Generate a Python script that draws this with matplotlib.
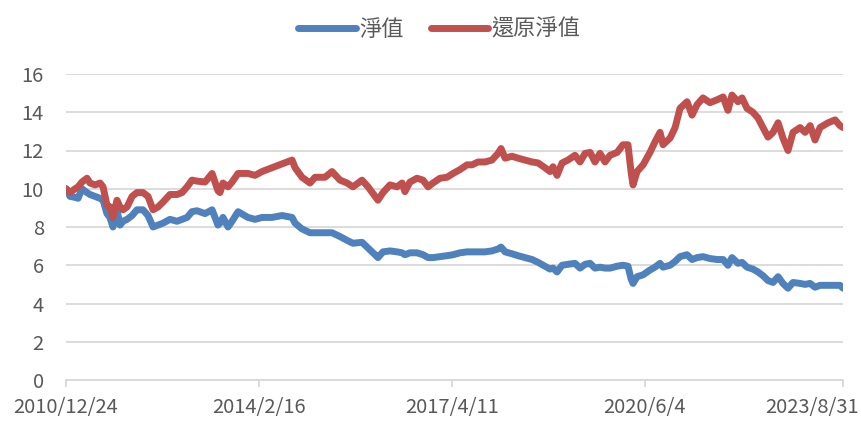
import matplotlib
matplotlib.use("Agg")
import matplotlib.pyplot as plt
import pandas as pd
from matplotlib.transforms import ScaledTranslation

plt.rcParams['font.family'] = ['Noto Sans CJK TC', 'DejaVu Sans']

dates = [
    "2010-12-24", "2011-01-17", "2011-02-16", "2011-03-06", "2011-03-29", "2011-04-28",
    "2011-05-16", "2011-06-15", "2011-07-15", "2011-08-02", "2011-08-25", "2011-09-12",
    "2011-09-30", "2011-10-24", "2011-11-11", "2011-11-29", "2011-12-23", "2012-01-22",
    "2012-02-20", "2012-03-27", "2012-04-26", "2012-05-26", "2012-06-25", "2012-07-24",
    "2012-09-04", "2012-10-16", "2012-11-15", "2012-12-15", "2013-01-13", "2013-02-12",
    "2013-04-01", "2013-05-13", "2013-06-17", "2013-06-29", "2013-07-17", "2013-08-16",
    "2013-09-09", "2013-10-15", "2013-12-13", "2014-01-24", "2014-03-07", "2014-05-05",
    "2014-07-04", "2014-09-02", "2014-09-20", "2014-10-31", "2014-12-18", "2015-01-17",
    "2015-03-17", "2015-04-28", "2015-06-15", "2015-07-27", "2015-08-31", "2015-10-24",
    "2015-11-29", "2016-01-10", "2016-01-27", "2016-02-26", "2016-04-08", "2016-05-20",
    "2016-06-19", "2016-07-06", "2016-08-05", "2016-09-16", "2016-10-22", "2016-11-21",
    "2016-12-20", "2017-01-31", "2017-03-14", "2017-04-19", "2017-05-30", "2017-07-11",
    "2017-08-10", "2017-09-15", "2017-10-26", "2017-12-07", "2018-01-12", "2018-01-30",
    "2018-02-23", "2018-04-05", "2018-05-11", "2018-06-22", "2018-08-03", "2018-09-08",
    "2018-10-19", "2018-11-18", "2018-12-06", "2018-12-30", "2019-01-29", "2019-03-05",
    "2019-04-16", "2019-05-16", "2019-06-15", "2019-07-15", "2019-08-13", "2019-09-12",
    "2019-10-12", "2019-11-11", "2019-12-23", "2020-01-27", "2020-02-26", "2020-03-15",
    "2020-03-27", "2020-04-20", "2020-05-26", "2020-07-06", "2020-08-05", "2020-09-04",
    "2020-09-22", "2020-11-03", "2020-12-03", "2021-01-01", "2021-02-12", "2021-03-14",
    "2021-04-13", "2021-05-18", "2021-06-29", "2021-08-10", "2021-09-15", "2021-10-14",
    "2021-11-07", "2021-12-13", "2022-01-06", "2022-02-05", "2022-03-12", "2022-04-11",
    "2022-05-11", "2022-06-10", "2022-07-10", "2022-08-09", "2022-09-07", "2022-10-07",
    "2022-11-06", "2022-12-18", "2023-01-17", "2023-02-16", "2023-03-17", "2023-04-16",
    "2023-06-03", "2023-07-15", "2023-08-13", "2023-08-31",
]

nav = [
    10.0, 9.6, 9.55, 9.5, 10.0, 9.8, 9.7, 9.6, 9.5, 9.4, 8.7, 8.5,
    8.0, 8.9, 8.1, 8.3, 8.4, 8.6, 8.9, 8.9, 8.6, 8.0, 8.1, 8.2,
    8.4, 8.3, 8.4, 8.5, 8.8, 8.85, 8.7, 8.9, 8.1, 8.2, 8.5, 8.0,
    8.3, 8.8, 8.5, 8.4, 8.5, 8.5, 8.6, 8.5, 8.2, 7.9, 7.7, 7.7,
    7.7, 7.7, 7.5, 7.3, 7.15, 7.2, 6.9, 6.55, 6.4, 6.7, 6.75, 6.7,
    6.65, 6.55, 6.65, 6.65, 6.55, 6.4, 6.4, 6.45, 6.5, 6.55, 6.65, 6.7,
    6.7, 6.7, 6.7, 6.75, 6.85, 6.95, 6.7, 6.6, 6.5, 6.4, 6.3, 6.15,
    5.95, 5.8, 5.85, 5.65, 6.0, 6.05, 6.1, 5.85, 6.05, 6.1, 5.85, 5.9,
    5.85, 5.85, 5.95, 6.0, 5.95, 5.3, 5.05, 5.4, 5.5, 5.75, 5.9, 6.1,
    5.9, 6.0, 6.2, 6.45, 6.55, 6.3, 6.4, 6.45, 6.35, 6.3, 6.3, 6.0,
    6.4, 6.1, 6.15, 5.9, 5.8, 5.65, 5.45, 5.2, 5.1, 5.4, 5.05, 4.8,
    5.1, 5.05, 5.0, 5.05, 4.85, 4.95, 4.95, 4.95, 4.95, 4.8,
]

adj_nav = [
    10.0, 9.8, 10.0, 10.1, 10.35, 10.55, 10.3, 10.2, 10.3, 10.1, 9.15, 9.05,
    8.5, 9.4, 9.05, 8.9, 9.05, 9.6, 9.8, 9.8, 9.6, 8.9, 9.05, 9.3,
    9.7, 9.7, 9.8, 10.1, 10.45, 10.4, 10.35, 10.8, 9.9, 9.8, 10.3, 10.1,
    10.35, 10.8, 10.8, 10.7, 10.9, 11.1, 11.3, 11.5, 11.1, 10.6, 10.3, 10.6,
    10.6, 10.9, 10.45, 10.3, 10.1, 10.45, 10.1, 9.6, 9.4, 9.8, 10.2, 10.1,
    10.3, 9.85, 10.35, 10.55, 10.45, 10.1, 10.3, 10.55, 10.6, 10.8, 11.0, 11.25,
    11.25, 11.4, 11.4, 11.5, 11.85, 12.1, 11.6, 11.7, 11.6, 11.5, 11.4, 11.35,
    11.1, 10.9, 11.15, 10.7, 11.35, 11.5, 11.75, 11.4, 11.85, 11.9, 11.4, 11.85,
    11.4, 11.75, 11.9, 12.3, 12.3, 10.9, 10.2, 10.9, 11.25, 11.9, 12.45, 12.95,
    12.3, 12.65, 13.2, 14.2, 14.55, 13.85, 14.4, 14.75, 14.5, 14.65, 14.8, 14.1,
    14.9, 14.55, 14.75, 14.2, 14.0, 13.7, 13.2, 12.7, 12.95, 13.45, 12.65, 12.0,
    12.95, 13.2, 12.95, 13.3, 12.55, 13.2, 13.45, 13.6, 13.3, 13.2,
]

series_names = ["淨值", "還原淨值"]
tick_dates = ["2010-12-24", "2014-02-16", "2017-04-11", "2020-06-04", "2023-08-31"]
tick_labels = ["2010/12/24", "2014/2/16", "2017/4/11", "2020/6/4", "2023/8/31"]
y_ticks = [0, 2, 4, 6, 8, 10, 12, 14, 16]

x = pd.to_datetime(dates)
text_color = "#595959"

fig = plt.figure(figsize=(8.62, 4.21), dpi=100)
ax = fig.add_axes([66 / 862, 1 - 380 / 421, (843 - 66) / 862, (380 - 74) / 421])

ax.plot(x, nav, color="#4F81BD", lw=5, solid_joinstyle="round",
        solid_capstyle="round", label=series_names[0], zorder=3)
ax.plot(x, adj_nav, color="#C0504D", lw=5, solid_joinstyle="round",
        solid_capstyle="round", label=series_names[1], zorder=3)

ax.set_ylim(0, 16)
ax.set_yticks(y_ticks)
ax.set_xlim(pd.Timestamp(tick_dates[0]), pd.Timestamp(tick_dates[-1]))
ax.set_xticks(pd.to_datetime(tick_dates))
ax.set_xticklabels(tick_labels)

ax.grid(axis="y", color="#D9D9D9", lw=1.3)
ax.set_axisbelow(True)
for side in ["top", "right", "left"]:
    ax.spines[side].set_visible(False)
ax.spines["bottom"].set_color("#D9D9D9")
ax.spines["bottom"].set_linewidth(1.3)

ax.tick_params(axis="y", length=0, pad=16, labelsize=14.5, labelcolor=text_color)
ax.tick_params(axis="x", length=5, width=1.3, color="#D9D9D9", pad=7,
               labelsize=14.5, labelcolor=text_color)
labels = ax.get_xticklabels()
labels[-1].set_horizontalalignment("right")
labels[-1].set_transform(labels[-1].get_transform() +
                         ScaledTranslation(16 / 100, 0, fig.dpi_scale_trans))

leg = fig.legend(loc="upper center", bbox_to_anchor=(0.51, 1.005), ncol=2, frameon=False,
                 fontsize=16, handlelength=2.6, columnspacing=1.2, handletextpad=0.15,
                 labelcolor=text_color)
for line in leg.get_lines():
    line.set_linewidth(5)

fig.savefig("out.png", dpi=100)
